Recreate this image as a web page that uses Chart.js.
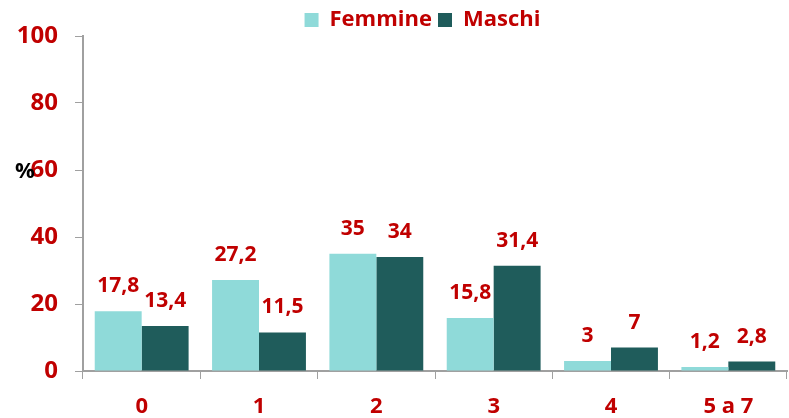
<!DOCTYPE html>
<html>
<head>
<meta charset="utf-8">
<script src="https://cdn.jsdelivr.net/npm/chart.js@4"></script>
<style>
html,body{margin:0;padding:0;background:#fff;}
#wrap{width:789px;height:418px;}
</style>
</head>
<body>
<div id="wrap"><canvas id="c" width="789" height="418"></canvas></div>
<script>
const categories = ["0", "1", "2", "3", "4", "5 a 7"];
const femmine = [17.8, 27.2, 35, 15.8, 3, 1.2];
const maschi = [13.4, 11.5, 34, 31.4, 7, 2.8];
const yTicks = [0, 20, 40, 60, 80, 100];

const RED = "#c00000";
const FONT = "'Open Sans', Lato, sans-serif";

const labelPlugin = {
  id: "valueLabels",
  beforeLayout(chart) {
    const lg = chart.legend;
    if (lg && !lg._fitWrapped) {
      const orig = lg.fit;
      lg.fit = function () { orig.call(this); this.height -= 5; };
      lg._fitWrapped = true;
    }
  },
  afterLayout(chart) {
    if (chart.legend) { chart.legend.left += 58; }
  },
  afterDatasetsDraw(chart) {
    const ctx = chart.ctx;
    ctx.save();
    ctx.font = "bold 21px " + FONT;
    ctx.fillStyle = RED;
    ctx.textAlign = "center";
    ctx.textBaseline = "alphabetic";
    chart.data.datasets.forEach((ds, i) => {
      const meta = chart.getDatasetMeta(i);
      meta.data.forEach((el, j) => {
        const txt = String(ds.data[j]).replace(".", ",");
        ctx.fillText(txt, el.x, el.y - 19);
      });
    });
    ctx.fillStyle = "#000";
    ctx.textAlign = "center";
    ctx.textBaseline = "middle";
    ctx.font = "bold 22px " + FONT;
    const y = chart.scales.y.getPixelForValue(60);
    ctx.fillText("%", 25, y + 2);
    ctx.restore();
  }
};

new Chart(document.getElementById("c"), {
  type: "bar",
  data: {
    labels: categories,
    datasets: [
      { label: "Femmine", data: femmine, backgroundColor: "#8fdad9", borderWidth: 0 },
      { label: "Maschi", data: maschi, backgroundColor: "#1f5c5b", borderWidth: 0 }
    ]
  },
  options: {
    responsive: false,
    animation: false,
    layout: { padding: { left: 0, right: 2, top: 3, bottom: 0 } },
    datasets: { bar: { categoryPercentage: 0.8, barPercentage: 1.0 } },
    plugins: {
      legend: {
        position: "top",
        align: "center",
        labels: {
          boxWidth: 14, boxHeight: 14, padding: 6,
          color: RED,
          font: { family: FONT, size: 22, weight: "bold" }
        }
      },
      tooltip: { enabled: false }
    },
    scales: {
      x: {
        afterFit(scale) { scale.height = 47; },
        grid: { display: true, drawOnChartArea: false, drawTicks: true, tickLength: 8, color: "#a0a0a0", offset: true },
        border: { display: true, color: "#a0a0a0", width: 2 },
        ticks: { color: RED, padding: 17, font: { family: FONT, size: 22, weight: "bold", lineHeight: 1.0 } }
      },
      y: {
        min: 0, max: 100,
        afterBuildTicks(scale) { scale.ticks = yTicks.map(v => ({ value: v })); },
        afterFit(scale) { scale.width = 83; },
        grid: { display: true, drawOnChartArea: false, drawTicks: true, tickLength: 8, color: "#a0a0a0" },
        border: { display: true, color: "#a0a0a0", width: 2 },
        ticks: { color: RED, padding: 17, font: { family: FONT, size: 24, weight: "bold" } }
      }
    }
  },
  plugins: [labelPlugin]
});
</script>
</body>
</html>
